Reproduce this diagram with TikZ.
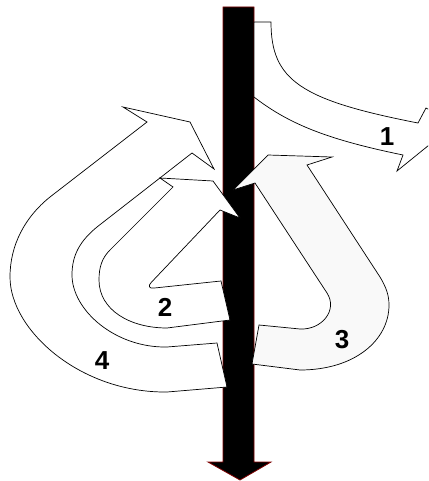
\documentclass[tikz,border=0pt]{standalone}
\usepackage{fontspec}
\setmainfont{Liberation Sans}
\usepackage{tikz}
\usetikzlibrary{calc}
\usepackage{xcolor}
\definecolor{shaftred}{RGB}{128,0,0}
\definecolor{paleturn}{RGB}{249,249,249}

\begin{document}
\begin{tikzpicture}[x=1pt, y=-1pt,
  shaft/.style={fill=black, draw=shaftred, line width=0.8pt},
  bent/.style={draw=black, fill=white, line width=0.7pt, line join=miter},
  num/.style={font=\fontsize{26}{26}\selectfont\bfseries, inner sep=0pt}
]
\useasboundingbox (0,0) rectangle (428,481);
\clip (0,0) rectangle (428,481);

% the long black arrow
\draw[shaft] (223,7) -- (254,7) -- (254,462) -- (271,462) -- (240,480) -- (208,462) -- (223,462) -- cycle;

% arrow 1
\draw[bent] (254,22) -- (271,22) .. controls (271,80) and (300,100) .. (418,123)
  -- (426,108) -- (455,124) -- (397,171) -- (403,155)
  .. controls (330,140) and (290,125) .. (254,97) -- cycle;

% arrow 4
\draw[bent] (227,387) -- (217,343) -- (167,347)
  .. controls (115,348) and (72,310) .. (72,275)
  .. controls (72,255) and (80,241) .. (97,227)
  -- (192,153) -- (214,169) -- (190,122) -- (123,107) -- (147,122) -- (50,197)
  .. controls (25,217) and (10,245) .. (10,277)
  .. controls (10,330) and (80,393) .. (167,392) -- cycle;

% arrow 2
\draw[bent] (230,320) -- (221,281) [rounded corners=9pt] -- (145,289) [sharp corners] -- (220,210)
  -- (240,218) -- (213,181) -- (160,178) -- (173,187) -- (110,250)
  .. controls (102,258) and (99,267) .. (99,280)
  .. controls (99,310) and (130,328) .. (167,328) -- cycle;

% arrow 3
\draw[bent, fill=paleturn] (259,325) -- (300,329)
  .. controls (322,330) and (338,310) .. (327,293)
  -- (255,183) -- (233,190) -- (268,155) -- (332,157) -- (307,165) -- (380,277)
  .. controls (386,287) and (389,295) .. (389,305)
  .. controls (389,340) and (355,370) .. (300,370) -- (252,364) -- cycle;

\node[num] (n1) at (387,137) {1};
\node[num] (n2) at (165,307) {2};
\node[num] (n3) at (342,340) {3};
\node[num] (n4) at (102,361) {4};
\end{tikzpicture}
\end{document}
